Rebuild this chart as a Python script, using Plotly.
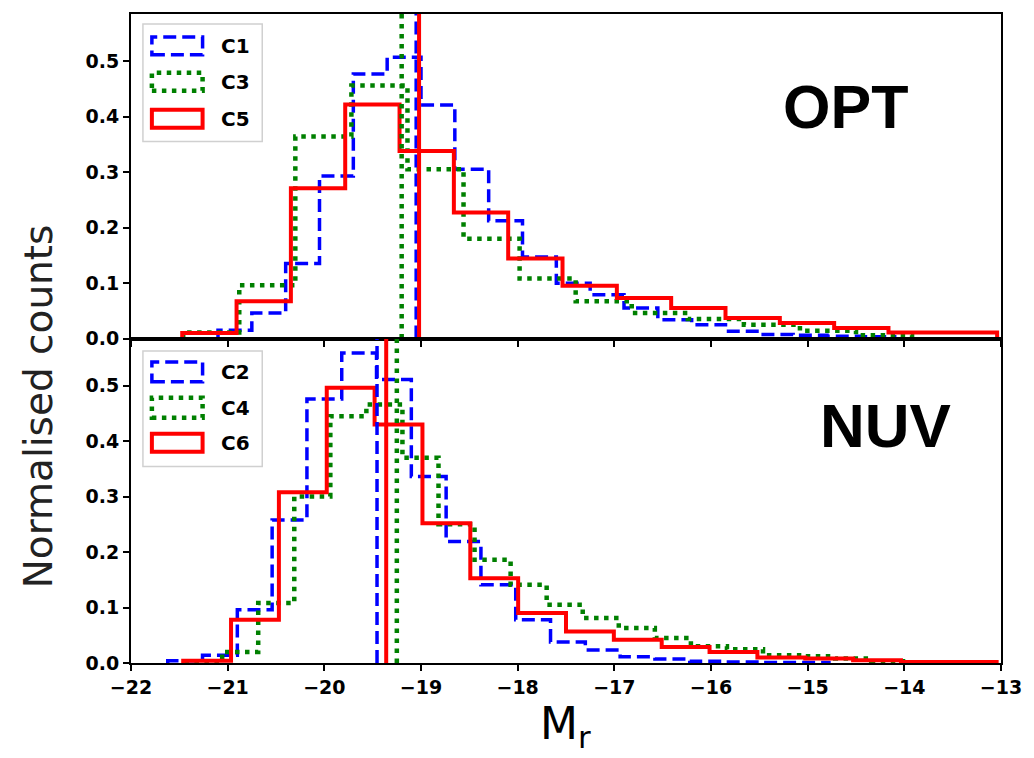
import plotly.graph_objects as go
from plotly.subplots import make_subplots

# ---------------- data ----------------
# top panel (OPT): normalised histograms, bin start, bin width, heights
c1_start, c1_width = -21.10, 0.35
c1_vals = [0.015, 0.046, 0.135, 0.293, 0.477, 0.507, 0.421, 0.305, 0.2125, 0.147,
           0.0995, 0.079, 0.055, 0.034, 0.025, 0.013, 0.007, 0.006, 0.004, 0.003]
c3_start, c3_width = -21.46, 0.58
c3_vals = [0.011, 0.096, 0.364, 0.456, 0.305, 0.18, 0.108, 0.067, 0.046, 0.035,
           0.025, 0.014, 0.006]
c5_start, c5_width = -21.47, 0.562
c5_vals = [0.01, 0.067, 0.271, 0.422, 0.338, 0.227, 0.144, 0.095, 0.073, 0.055,
           0.037, 0.028, 0.019, 0.011, 0.011]

# bottom panel (NUV)
c2_start, c2_width = -21.62, 0.36
c2_vals = [0.004, 0.014, 0.096, 0.258, 0.476, 0.559, 0.511, 0.336, 0.219, 0.141,
           0.078, 0.038, 0.0235, 0.0114, 0.007, 0.003, 0.002, 0.001, 0.001]
c4_start, c4_width = -21.43, 0.373
c4_vals = [0.003, 0.02, 0.108, 0.30, 0.445, 0.466, 0.37, 0.25, 0.186, 0.141,
           0.105, 0.081, 0.063, 0.045, 0.03, 0.025, 0.014, 0.012, 0.008, 0.003]
c6_start, c6_width = -21.46, 0.495
c6_vals = [0.004, 0.078, 0.308, 0.496, 0.43, 0.252, 0.153, 0.090, 0.057, 0.042,
           0.029, 0.020, 0.010, 0.008, 0.005, 0.002, 0.002]

# medians (vertical lines)
med_top = {"C1": -19.05, "C3": -19.20, "C5": -19.02}
med_bot = {"C2": -19.455, "C4": -19.25, "C6": -19.36}

x_ticks = [-22, -21, -20, -19, -18, -17, -16, -15, -14, -13]
y_ticks = [0.0, 0.1, 0.2, 0.3, 0.4, 0.5]
Y_MAX = 0.585

# ---------------- styles ----------------
BLUE, GREEN, RED = "#0000ff", "#008000", "#ff0000"
STYLE = {
    "C1": dict(color=BLUE, width=3.5, dash="13px,6px"),
    "C2": dict(color=BLUE, width=3.5, dash="13px,6px"),
    "C3": dict(color=GREEN, width=4.5, dash="4.5px,5.5px"),
    "C4": dict(color=GREEN, width=4.5, dash="4.5px,5.5px"),
    "C5": dict(color=RED, width=4, dash="solid"),
    "C6": dict(color=RED, width=4, dash="solid"),
}


def step_xy(start, width, vals):
    edges = [start + width * i for i in range(len(vals) + 1)]
    xs = [edges[0]] + edges[:-1] + [edges[-1], edges[-1]]
    ys = [0.0] + list(vals) + [vals[-1], 0.0]
    return xs, ys


fig = make_subplots(rows=2, cols=1, shared_xaxes=True, vertical_spacing=0)

panels = [
    (1, [("C1", c1_start, c1_width, c1_vals), ("C3", c3_start, c3_width, c3_vals),
         ("C5", c5_start, c5_width, c5_vals)], med_top),
    (2, [("C2", c2_start, c2_width, c2_vals), ("C4", c4_start, c4_width, c4_vals),
         ("C6", c6_start, c6_width, c6_vals)], med_bot),
]
for row, hists, meds in panels:
    for name, s, w, v in hists:
        xs, ys = step_xy(s, w, v)
        fig.add_trace(go.Scatter(x=xs, y=ys, mode="lines", line_shape="hv",
                                 line=STYLE[name], name=name, showlegend=False,
                                 hoverinfo="skip"), row=row, col=1)
    for name, m in meds.items():
        fig.add_trace(go.Scatter(x=[m, m], y=[0, Y_MAX], mode="lines",
                                 line=STYLE[name], showlegend=False,
                                 hoverinfo="skip"), row=row, col=1)

# ---------------- layout ----------------
L, R, T, B = 131, 1006, 12, 663
W, H = 1034, 758
PW, PH = R - L, B - T


def px(x):
    return (x - L) / PW


def py(y):
    return (B - y) / PH


tickfont = dict(family="DejaVu Sans", size=19, color="black", weight="bold")
axis_common = dict(showline=True, linecolor="black", linewidth=2, mirror=True,
                   showgrid=False, zeroline=False, ticks="outside", ticklen=6,
                   tickwidth=1.5, tickcolor="black", tickfont=tickfont)

fig.update_layout(
    width=W, height=H,
    margin=dict(l=L, r=W - R, t=T, b=H - B),
    paper_bgcolor="white", plot_bgcolor="white",
    showlegend=False,
    xaxis=dict(axis_common, range=[-22, -13], tickvals=x_ticks, showticklabels=False),
    xaxis2=dict(axis_common, range=[-22, -13], tickvals=x_ticks),
    yaxis=dict(axis_common, range=[0, Y_MAX], tickvals=y_ticks, tickformat=".1f",
               domain=[0.5, 1.0]),
    yaxis2=dict(axis_common, range=[0, Y_MAX], tickvals=y_ticks, tickformat=".1f",
                domain=[0.0, 0.5]),
)

# ---------------- custom legends (matplotlib-like patches) ----------------
shapes = []
annotations = []
legend_boxes = [
    (143, 22, 263, 140, [("C1", 35, 53), ("C3", 71, 89), ("C5", 108, 126)]),
    (143, 350, 263, 466, [("C2", 361, 381), ("C4", 397, 417), ("C6", 433, 451)]),
]
for x0, y0, x1, y1, entries in legend_boxes:
    shapes.append(dict(type="rect", xref="paper", yref="paper",
                       x0=px(x0), x1=px(x1), y0=py(y1), y1=py(y0),
                       line=dict(color="#d0d0d0", width=1.5),
                       fillcolor="rgba(255,255,255,0.8)", layer="above"))
    for name, ey0, ey1 in entries:
        st = STYLE[name]
        shapes.append(dict(type="rect", xref="paper", yref="paper",
                           x0=px(152), x1=px(203), y0=py(ey1), y1=py(ey0),
                           line=dict(color=st["color"], width=st["width"], dash=st["dash"]),
                           fillcolor="rgba(0,0,0,0)", layer="above"))
        annotations.append(dict(text=name, xref="paper", yref="paper",
                                x=px(220), y=py((ey0 + ey1) / 2), xanchor="left",
                                yanchor="middle", showarrow=False,
                                font=dict(family="DejaVu Sans", size=20,
                                          color="black", weight="bold")))

annotations += [
    dict(text="OPT", xref="paper", yref="paper", x=px(850), y=py(105),
         xanchor="center", yanchor="middle", showarrow=False,
         font=dict(family="Liberation Sans", size=61, color="black", weight="bold")),
    dict(text="NUV", xref="paper", yref="paper", x=px(890), y=py(425),
         xanchor="center", yanchor="middle", showarrow=False,
         font=dict(family="Liberation Sans", size=62, color="black", weight="bold")),
    dict(text="Normalised counts", xref="paper", yref="paper", x=px(38), y=py(406),
         xanchor="center", yanchor="middle", textangle=-90, showarrow=False,
         font=dict(family="DejaVu Sans", size=39, color="#222222")),
    dict(text="M<sub>r</sub>", xref="paper", yref="paper", x=px(568), y=py(727),
         xanchor="center", yanchor="middle", showarrow=False,
         font=dict(family="DejaVu Sans", size=44, color="black")),
]

fig.update_layout(shapes=shapes, annotations=annotations)

fig.write_html("out.html")
